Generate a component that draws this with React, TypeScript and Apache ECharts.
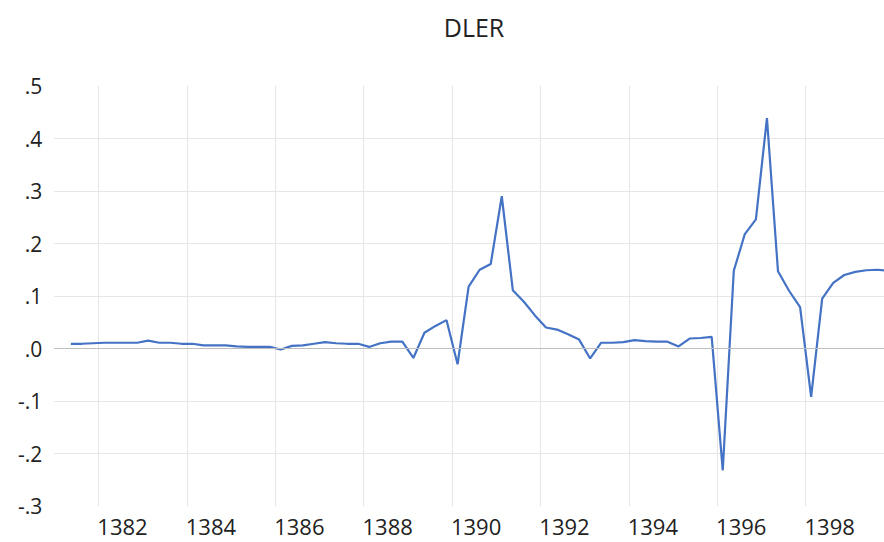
import React, { useEffect, useRef } from "react";
import * as echarts from "echarts";

const years = [
  "1381", "1382", "1383", "1384", "1385", "1386", "1387", "1388", "1389", "1390",
  "1391", "1392", "1393", "1394", "1395", "1396", "1397", "1398", "1399",
];
const quarterNames = ["Q1", "Q2", "Q3", "Q4"];
const labelYears = ["1382", "1384", "1386", "1388", "1390", "1392", "1394", "1396", "1398"];
const yTicks = [-0.3, -0.2, -0.1, 0, 0.1, 0.2, 0.3, 0.4, 0.5];

const dler = [
  null, 0.009, 0.009, 0.010,
  0.011, 0.011, 0.011, 0.011,
  0.015, 0.011, 0.011, 0.009,
  0.009, 0.006, 0.006, 0.006,
  0.004, 0.003, 0.003, 0.003,
  -0.002, 0.005, 0.006, 0.009,
  0.012, 0.010, 0.009, 0.009,
  0.003, 0.010, 0.013, 0.013,
  -0.018, 0.030, 0.043, 0.054,
  -0.030, 0.118, 0.150, 0.161,
  0.290, 0.111, 0.089, 0.063,
  0.040, 0.036, 0.027, 0.017,
  -0.019, 0.011, 0.011, 0.012,
  0.016, 0.014, 0.013, 0.013,
  0.004, 0.019, 0.020, 0.022,
  -0.232, 0.148, 0.218, 0.246,
  0.439, 0.147, 0.110, 0.079,
  -0.092, 0.095, 0.125, 0.140,
  0.146, 0.149, 0.150, 0.148,
];

const categories: string[] = [];
years.forEach((y) => quarterNames.forEach((q) => categories.push(y + q)));

const isMarked = (value: string) =>
  labelYears.indexOf(value.slice(0, 4)) >= 0 && value.endsWith("Q1");

export default function App() {
  const ref = useRef<HTMLDivElement>(null);
  useEffect(() => {
    if (!ref.current) return;
    const chart = echarts.init(ref.current, undefined, { renderer: "svg" });
    const font = "'Open Sans', 'DejaVu Sans', sans-serif";
    chart.setOption({
      animation: false,
      title: {
        text: "DLER",
        left: 469,
        top: 9,
        textAlign: "center",
        textStyle: { fontFamily: font, fontSize: 25, fontWeight: "normal", color: "#222" },
      },
      grid: { left: 54.3, right: 0, top: 86, bottom: 36 },
      xAxis: {
        type: "category",
        data: categories,
        boundaryGap: true,
        axisLine: { show: false },
        axisTick: { show: false },
        axisLabel: {
          interval: (_i: number, v: string) => isMarked(v),
          formatter: (v: string) => v.slice(0, 4),
          align: "center",
          padding: [0, 0, 0, 37],
          margin: 9,
          fontFamily: font,
          fontSize: 22,
          color: "#222",
        },
        splitLine: {
          show: true,
          interval: (_i: number, v: string) => isMarked(v),
          lineStyle: { color: "#e6e6e6", width: 1 },
        },
      },
      yAxis: {
        type: "value",
        min: yTicks[0],
        max: yTicks[yTicks.length - 1],
        interval: 0.1,
        axisLine: { show: false },
        axisTick: { show: false },
        axisLabel: {
          margin: 12,
          fontFamily: font,
          fontSize: 21,
          color: "#222",
          formatter: (v: number) => {
            const s = (Math.round(v * 10) / 10).toFixed(1);
            return s.replace("0.", ".");
          },
        },
        splitLine: {
          show: true,
          showMinLine: false,
          showMaxLine: false,
          lineStyle: { color: "#e6e6e6", width: 1 },
        },
      },
      series: [
        {
          type: "line",
          data: dler,
          showSymbol: false,
          symbol: "none",
          lineStyle: { color: "#4472c4", width: 2.2 },
          itemStyle: { color: "#4472c4" },
          connectNulls: false,
          markLine: {
            silent: true,
            symbol: ["none", "none"],
            label: { show: false },
            lineStyle: { color: "#bdbdbd", width: 1, type: "solid" },
            data: [{ yAxis: 0 }],
          },
          z: 3,
        },
      ],
    });
    return () => chart.dispose();
  }, []);
  return (
    <div style={{ position: "absolute", left: 0, top: 0, width: 884, height: 542, overflow: "hidden" }}>
      <div ref={ref} style={{ width: 894, height: 542 }} />
    </div>
  );
}
